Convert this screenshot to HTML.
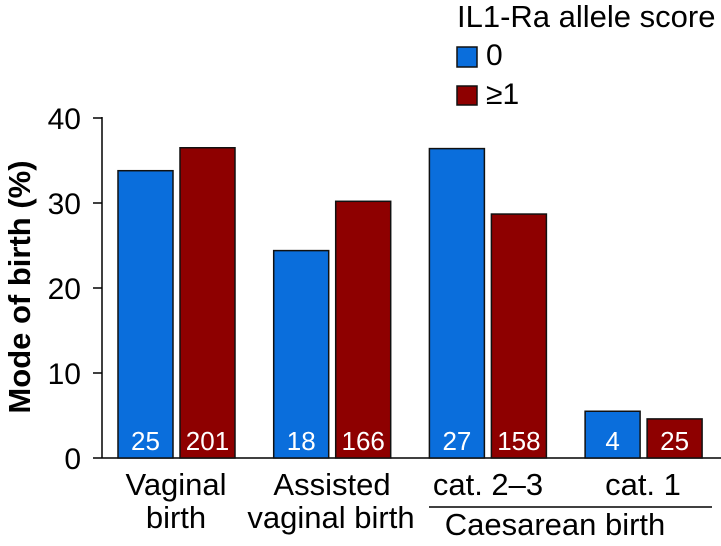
<!DOCTYPE html>
<html><head><meta charset="utf-8"><style>
body{margin:0;background:#fff;}
svg{display:block;font-family:"Liberation Sans",Arial,sans-serif;}
</style></head><body>
<svg id="chart" width="721" height="546" viewBox="0 0 721 546">
<g id="axes"></g><g id="bars"></g>
<text x="457" y="27" font-size="31" fill="#000">IL1-Ra allele score</text>
<rect x="457" y="47" width="20" height="20" fill="#0a6edc" stroke="#111" stroke-width="1.5"/>
<text x="486" y="65" font-size="30">0</text>
<rect x="457" y="86" width="20" height="19" fill="#8e0000" stroke="#111" stroke-width="1.5"/>
<text x="486" y="104" font-size="30">≥1</text>
<text transform="translate(30,287) rotate(-90)" text-anchor="middle" font-size="31" font-weight="bold">Mode of birth (%)</text>
<g font-size="31" text-anchor="middle">
<text x="176" y="495">Vaginal</text><text x="176" y="528">birth</text>
<text x="332" y="495">Assisted</text><text x="331" y="528">vaginal birth</text>
<text x="488" y="495">cat. 2–3</text><text x="643" y="495">cat. 1</text>
<line x1="429" y1="507" x2="712" y2="507" stroke="#000" stroke-width="1.5"/>
<text x="555" y="535">Caesarean birth</text>
</g>
</svg>
<script>
const categories=["Vaginal birth","Assisted vaginal birth","cat. 2–3","cat. 1"];
const series0=[33.8,24.4,36.4,5.5];
const series1=[36.5,30.2,28.7,4.6];
const counts0=[25,18,27,4];
const counts1=[201,166,158,25];
const yTicks=[0,10,20,30,40];
const NS="http://www.w3.org/2000/svg";
const y=v=>458-v*8.5;
const groupX=i=>118+i*155.7;
const axes=document.getElementById('axes'),bars=document.getElementById('bars');
function mk(tag,attrs,parent){const e=document.createElementNS(NS,tag);for(const k in attrs)e.setAttribute(k,attrs[k]);parent.appendChild(e);return e;}
let l=mk('line',{x1:102,y1:117,x2:102,y2:458,stroke:'#000','stroke-width':1.5},axes);


l=mk('line',{x1:102,y1:458,x2:721,y2:458,stroke:'#000','stroke-width':1.5},axes);


yTicks.forEach(t=>{
 const tk=mk('line',{x1:93,y1:y(t),x2:102,y2:y(t),stroke:'#000','stroke-width':1.5},axes);
 
 
 const tx=mk('text',{x:81,y:y(t)+11,'text-anchor':'end','font-size':30},axes);
 tx.textContent=t;
 
 
});
categories.forEach((c,i)=>{
 [[series0,counts0,'#0a6edc',0],[series1,counts1,'#8e0000',62]].forEach(([s,n,col,off],j)=>{
  const x=groupX(i)+off;
  const r=mk('rect',{x:x,y:y(s[i]),width:55,height:458-y(s[i]),fill:col,stroke:'#111','stroke-width':1.5},bars);
  
  
  const t=mk('text',{x:x+27.5,y:450,'text-anchor':'middle','font-size':26,fill:'#fff'},bars);
  t.textContent=n[i];
  
  
 });
});
</script>
</body></html>
